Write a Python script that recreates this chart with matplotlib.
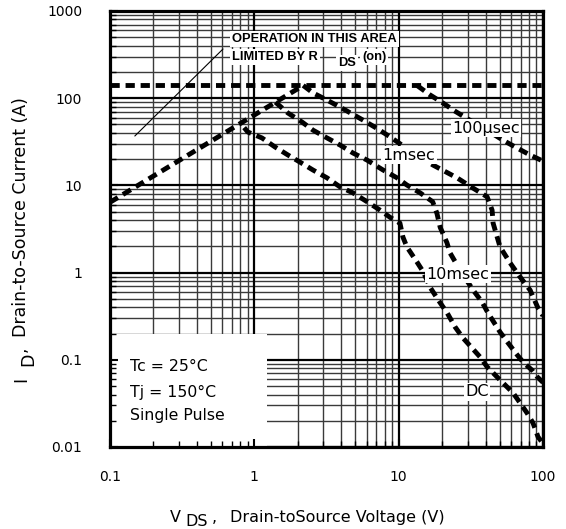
import numpy as np
import matplotlib
matplotlib.use("Agg")
import matplotlib.pyplot as plt
from matplotlib.patches import Rectangle

# --- data (V in volts, I in amps) ---
rds_v = [0.1, 2.18]
rds_i = [6.4, 140]

limit_v = [0.1, 100]
limit_i = [140, 140]

us100_v = [13.4, 16.5, 20.3, 23.9, 30, 40, 52.8, 66.2, 81.4, 100]
us100_i = [140, 109, 88, 73, 58, 44, 33, 26.8, 22.3, 19]

ms1_v = [2.18, 2.55, 3.19, 3.93, 5.67, 7.08, 8.72, 12, 17.3, 25.4, 32.8, 41,
         44.4, 45.1, 50.4, 59.2, 69.4, 81.4, 92.5, 100]
ms1_i = [140, 115, 95, 79, 56, 45, 36, 25, 17.1, 12.2, 9.3, 7.4,
         5.2, 3.7, 1.97, 1.29, 0.89, 0.63, 0.39, 0.32]

ms10_v = [1.40, 1.71, 2.14, 2.55, 3.19, 3.93, 4.83, 6.04, 7.8, 9.75, 11.4, 14.1,
          17.2, 18.4, 19.4, 21.6, 22.7, 26.6, 32.8, 37.8, 41.6, 50.4, 57.3,
          66.2, 72.8, 84, 91, 100]
ms10_i = [90, 67.6, 53.3, 43, 35, 29, 23.5, 19.5, 15, 12.2, 10.1, 8.2,
          6.5, 4.8, 3.3, 2.2, 1.68, 1.07, 0.63, 0.46, 0.344, 0.208, 0.156,
          0.114, 0.094, 0.076, 0.064, 0.055]

dc_v = [0.85, 0.9, 1.13, 1.39, 1.71, 2.07, 2.55, 3.19, 3.93, 4.83, 6.04, 7.43,
        8.72, 10.2, 10.7, 11.4, 13.4, 14.8, 16.5, 18.8, 21.7, 24.6, 27.9, 32.3,
        36.6, 41, 50.4, 56.4, 62.1, 69.4, 77.6, 85.3, 92.5, 100]
dc_i = [46, 41, 35, 27.6, 22.3, 18.5, 15, 12.2, 9.6, 8.2, 6.5, 5.2,
        4.3, 3.7, 2.56, 1.97, 1.32, 1.02, 0.68, 0.485, 0.344, 0.238, 0.178,
        0.136, 0.108, 0.083, 0.0587, 0.0488, 0.0416, 0.032, 0.0245, 0.0188,
        0.013, 0.011]

x_ticks = [0.1, 1, 10, 100]
x_labels = ["0.1", "1", "10", "100"]
y_ticks = [0.01, 0.1, 1, 10, 100, 1000]
y_labels = ["0.01", "0.1", "1", "10", "100", "1000"]

W, H = 566, 529


def px(x, y):
    return x / W, 1 - y / H


fig = plt.figure(figsize=(W / 100, H / 100), dpi=100)
ax = fig.add_axes([110 / W, 1 - 447 / H, 433 / W, 436 / H])
ax.set_xscale("log")
ax.set_yscale("log")
ax.set_xlim(0.1, 100)
ax.set_ylim(0.01, 1000)

# grid drawn by hand so the ticks can stay on top of the white boxes
for d in [0.1, 1, 10]:
    for k in range(2, 10):
        ax.axvline(k * d, color="#3a3a3a", lw=1.0, zorder=0.5)
for d in [0.01, 0.1, 1, 10, 100]:
    for k in range(2, 10):
        ax.axhline(k * d, color="#3a3a3a", lw=1.0, zorder=0.5)
for v in x_ticks:
    ax.axvline(v, color="black", lw=1.6, zorder=0.6)
for v in y_ticks:
    ax.axhline(v, color="black", lw=1.6, zorder=0.6)

# white area behind the conditions text
ax.add_patch(Rectangle((0.1, 0.01), 1.12, 0.187, facecolor="white",
                       edgecolor="none", zorder=1))

dash = (0, (1.9, 1.2))
kw = dict(color="black", lw=3.5, linestyle=dash, zorder=3)
ax.plot(limit_v, limit_i, **kw)
ax.plot(rds_v, rds_i, **kw)
ax.plot(us100_v, us100_i, **kw)
ax.plot(ms1_v, ms1_i, **kw)
ax.plot(ms10_v, ms10_i, **kw)
ax.plot(dc_v, dc_i, **kw)

box = dict(facecolor="white", edgecolor="none", pad=1.0)
lab = dict(fontsize=11.5, ha="center", va="center", bbox=box, zorder=5)
ax.text(40.3, 45.5, "100µsec", **lab)
ax.text(11.8, 22.3, "1msec", **lab)
ax.text(25.8, 0.96, "10msec", **lab)
ax.text(34.9, 0.043, "DC", **lab)

ax.annotate("", xy=(0.144, 35), xytext=(0.626, 386),
            arrowprops=dict(arrowstyle="-", lw=0.8, color="black"))

ax.set_xticks(x_ticks)
ax.set_xticklabels(x_labels)
ax.set_yticks(y_ticks)
ax.set_yticklabels(y_labels)
ax.xaxis.set_minor_formatter(matplotlib.ticker.NullFormatter())
ax.yaxis.set_minor_formatter(matplotlib.ticker.NullFormatter())
ax.tick_params(axis="x", which="major", pad=16.5)
ax.tick_params(axis="y", which="major", pad=20)
ax.tick_params(which="major", direction="in", length=6, width=1.5, labelsize=10)
ax.tick_params(which="minor", direction="in", length=4, width=1.0)
for s in ax.spines.values():
    s.set_linewidth(2.3)

# conditions text
for y, t in [(371, "Tc = 25°C"), (397, "Tj = 150°C"), (420, "Single Pulse")]:
    fig.text(*px(130, y), t, fontsize=11.3, va="baseline")

# R_DS(on) note
bold = dict(family="Liberation Sans", fontweight="bold", fontsize=9.3,
            va="baseline", bbox=dict(facecolor="white", edgecolor="none", pad=1.5))
fig.text(*px(232, 42), "OPERATION IN THIS AREA", **bold)
fig.text(*px(232, 60), "LIMITED BY R", **bold)
fig.text(*px(338, 66), "DS", **bold)
fig.text(*px(362, 60), "(on)", **bold)

# axis labels pieced together for the big subscripts
fig.text(*px(170, 522), "V", fontsize=11.5, va="baseline")
fig.text(*px(185, 526), "DS", fontsize=11.5, va="baseline")
fig.text(*px(212, 522), ",", fontsize=11.5, va="baseline")
fig.text(*px(230, 522), "Drain-toSource Voltage (V)", fontsize=11.5, va="baseline")

yl = dict(fontsize=12.5, rotation=90, rotation_mode="anchor", ha="left", va="baseline")
fig.text(*px(26, 382), "I", **yl)
fig.text(*px(33, 366), "D", **yl)
fig.text(*px(26, 352), ",", **yl)
fig.text(*px(26, 337), "Drain-to-Source Current (A)", **yl)

fig.savefig("out.png", dpi=100)
